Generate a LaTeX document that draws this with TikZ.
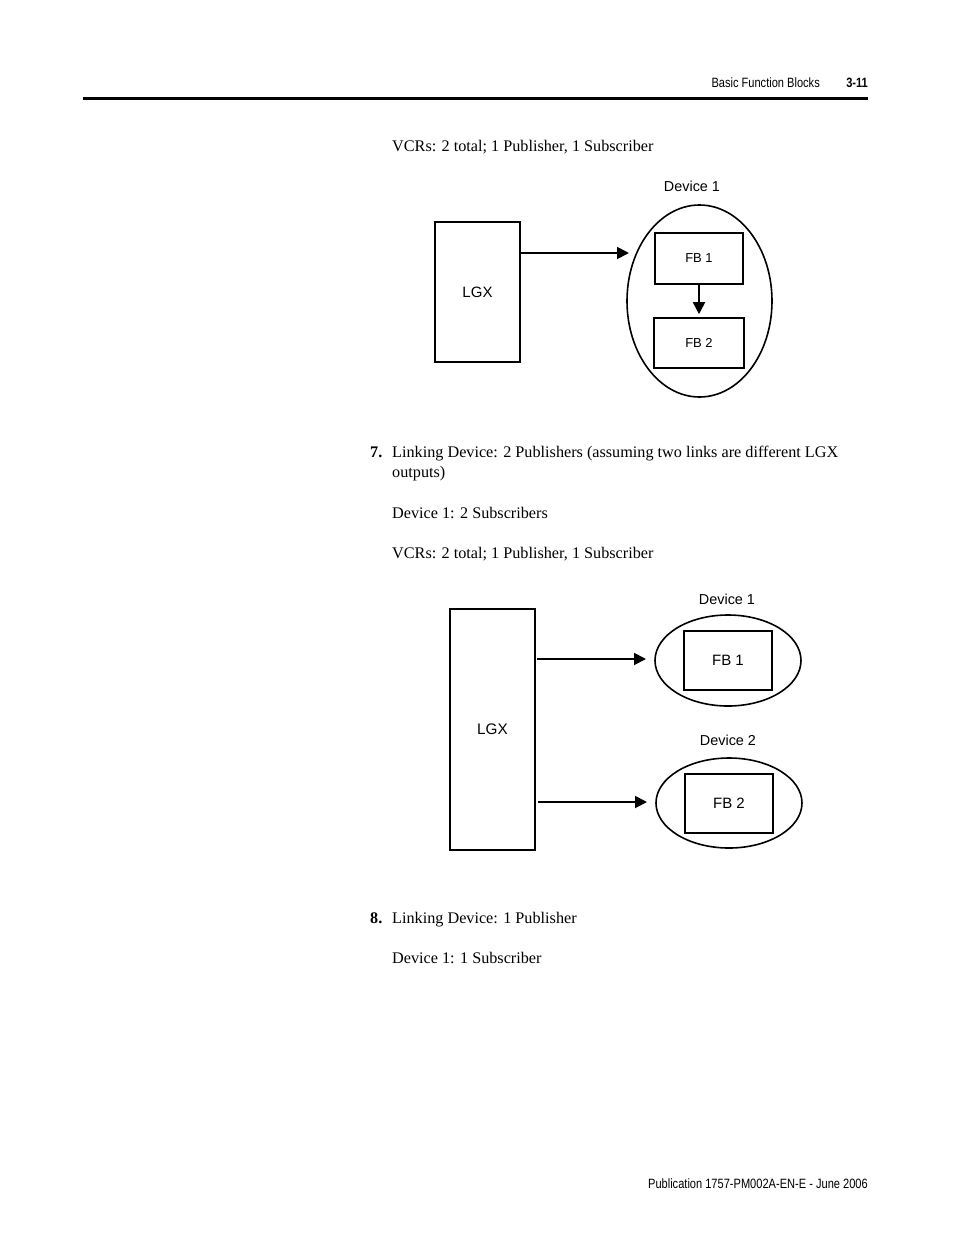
\documentclass[tikz,border=0pt]{standalone}
\usepackage{fontspec}
\setmainfont{Liberation Serif}
\newfontfamily\hdrfont{Liberation Sans}[FakeStretch=0.82]
\newfontfamily\diafont{Liberation Sans}
\usetikzlibrary{arrows.meta,shapes.geometric}
\begin{document}
\begin{tikzpicture}[x=1pt,y=-1pt,
  body/.style={inner sep=0pt,anchor=base west,font=\fontsize{16.2}{19}\selectfont},
  num/.style={inner sep=0pt,anchor=base west,font=\fontsize{16.2}{19}\selectfont\bfseries},
  hdr/.style={inner sep=0pt,anchor=base east,font=\hdrfont\fontsize{13.5}{16}\selectfont},
  lbl/.style={inner sep=0pt,font=\diafont\fontsize{14.4}{17}\selectfont},
  blk/.style={draw,line width=2pt,rectangle,inner sep=0pt},
  dev/.style={draw,line width=1.6pt,ellipse,inner sep=0pt},
  arr/.style={line width=1.8pt,-{Triangle[length=12pt,width=12pt]}}
]
\useasboundingbox[fill=white] (0,0) rectangle (954,1235);

% header
\node[hdr] (hdrA) at (820,87) {Basic Function Blocks};
\node[hdr,font=\hdrfont\fontsize{13.5}{16}\selectfont\bfseries] (hdrB) at (868,87) {3-11};
\coordinate (ruleL) at (83,98);
\coordinate (ruleR) at (868,98);
\draw[line width=3pt] (ruleL) -- (ruleR);

% first text
\node[body] (t1) at (392,151) {VCRs: 2 total; 1 Publisher, 1 Subscriber};

% diagram 1
\node[lbl] (dev1a) at (692,186) {Device 1};
\node[blk,minimum width=85pt,minimum height=140pt,font=\diafont\fontsize{15}{18}\selectfont] (lgx1) at (477.5,292) {LGX};
\node[dev,minimum width=145pt,minimum height=192pt] (ell1) at (699.5,301) {};
\node[blk,minimum width=88pt,minimum height=51pt,line width=1.8pt,font=\diafont\fontsize{13}{16}\selectfont] (fb1a) at (699,258.5) {FB 1};
\node[blk,minimum width=90pt,minimum height=50pt,line width=2.6pt,font=\diafont\fontsize{13}{16}\selectfont] (fb2a) at (699,343) {FB 2};
\coordinate (tip1) at (629,253);
\draw[arr] (lgx1.east |- tip1) -- (tip1);
\draw[arr,shorten >=2.5pt] (fb1a.south) -- (fb2a.north);

% item 7
\node[num] (n7) at (370,457) {7.};
\node[body] (t7a) at (392,457) {Linking Device: 2 Publishers (assuming two links are different LGX};
\node[body] (t7b) at (392,477) {outputs)};
\node[body] (t7c) at (392,518) {Device 1: 2 Subscribers};
\node[body] (t7d) at (392,558) {VCRs: 2 total; 1 Publisher, 1 Subscriber};

% diagram 2
\node[blk,minimum width=85pt,minimum height=241pt,font=\diafont\fontsize{15.3}{18}\selectfont] (lgx2) at (492.5,729.5) {LGX};
\node[lbl] (dev1b) at (727,599) {Device 1};
\node[dev,minimum width=146pt,minimum height=91pt] (ell2) at (728,660.5) {};
\node[blk,minimum width=88pt,minimum height=59pt,font=\diafont\fontsize{15}{18}\selectfont] (fb1b) at (728,660.5) {FB 1};
\node[lbl] (dev2b) at (728,740) {Device 2};
\node[dev,minimum width=146pt,minimum height=90pt] (ell3) at (729,803) {};
\node[blk,minimum width=88pt,minimum height=59pt,font=\diafont\fontsize{15}{18}\selectfont] (fb2b) at (729,803.5) {FB 2};
\coordinate (tip2) at (646,659);
\coordinate (tip3) at (647,802);
\draw[arr] ([xshift=1pt]lgx2.east |- tip2) -- (tip2);
\draw[arr] ([xshift=2pt]lgx2.east |- tip3) -- (tip3);

% item 8
\node[num] (n8) at (370,923) {8.};
\node[body] (t8a) at (392,923) {Linking Device: 1 Publisher};
\node[body] (t8b) at (392,963) {Device 1: 1 Subscriber};

% footer
\node[hdr] (foot) at (868,1188) {Publication 1757-PM002A-EN-E - June 2006};
\end{tikzpicture}
\end{document}
